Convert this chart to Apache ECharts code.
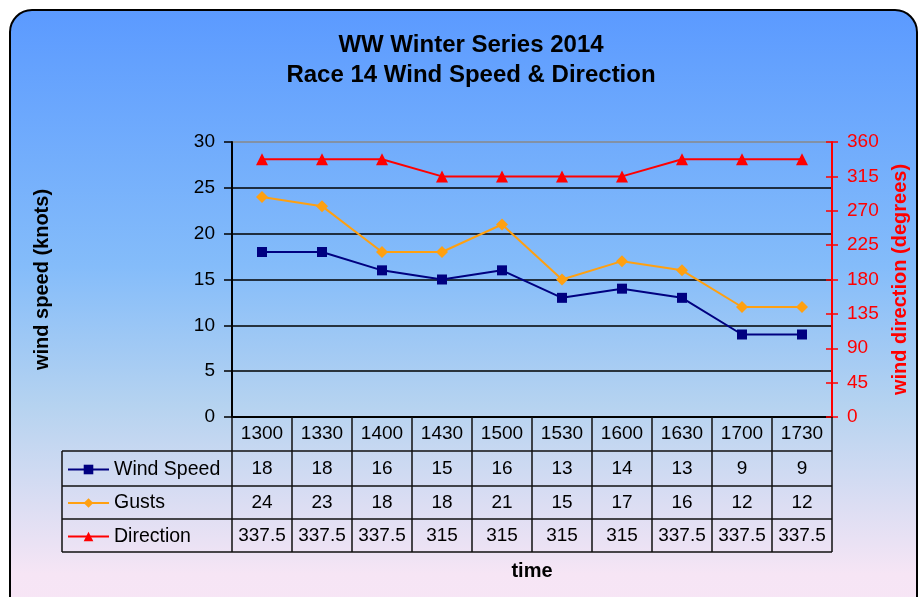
<!DOCTYPE html>
<html>
<head>
<meta charset="utf-8">
<title>WW Winter Series 2014</title>
<script src="https://cdn.jsdelivr.net/npm/echarts@6/dist/echarts.min.js"></script>
<style>
  html, body { margin: 0; padding: 0; background: #fff; }
  #main { width: 919px; height: 597px; }
</style>
</head>
<body>
<div id="main"></div>
<script>
// data
const times = ['1300', '1330', '1400', '1430', '1500', '1530', '1600', '1630', '1700', '1730'];
const windSpeed = [18, 18, 16, 15, 16, 13, 14, 13, 9, 9];
const gusts = [24, 23, 18, 18, 21, 15, 17, 16, 12, 12];
const direction = [337.5, 337.5, 337.5, 315, 315, 315, 315, 337.5, 337.5, 337.5];

const speedMax = 30, speedStep = 5;
const dirMax = 360, dirStep = 45;

// layout
const font = '"Liberation Sans", Arial, sans-serif';
const plotLeft = 232, plotRight = 832, plotTop = 142, plotBottom = 417;
const tableLeft = 62;
const rowLines = [451, 486, 519, 552];

const chart = echarts.init(document.getElementById('main'));

// one extra x axis per table row, labels pulled from the row's array
function tableRow(values, top, bottom) {
    return {
        type: 'category',
        gridIndex: 0,
        position: 'bottom',
        offset: top - plotBottom,
        data: times,
        axisLine: { show: false },
        axisTick: { show: false },
        splitLine: { show: false },
        axisLabel: {
            interval: 0,
            margin: (bottom - top) / 2,
            verticalAlign: 'middle',
            color: '#000',
            fontSize: 19,
            fontFamily: font,
            formatter: (v, i) => String(values[i])
        }
    };
}

const rules = [];
rowLines.forEach(y => {
    rules.push({
        type: 'line', z: 5,
        shape: { x1: tableLeft, y1: y, x2: plotRight, y2: y },
        style: { stroke: '#111', lineWidth: 1.5 }
    });
});
rules.push({
    type: 'line', z: 5,
    shape: { x1: tableLeft, y1: rowLines[0], x2: tableLeft, y2: rowLines[3] },
    style: { stroke: '#111', lineWidth: 1.5 }
});

const option = {
    backgroundColor: '#fff',
    animation: false,
    textStyle: { fontFamily: font },
    grid: {
        left: plotLeft,
        right: 919 - plotRight,
        top: plotTop,
        bottom: 597 - plotBottom,
        outerBoundsMode: 'none'
    },
    legend: {
        orient: 'vertical',
        left: 67,
        top: 459.5,
        padding: 0,
        itemWidth: 41,
        itemHeight: 12,
        itemGap: 13.5,
        selectedMode: false,
        textStyle: { fontSize: 19.5, color: '#000', fontFamily: font, lineHeight: 20 },
        data: ['Wind Speed', 'Gusts', 'Direction']
    },
    xAxis: [
        {
            type: 'category',
            data: times,
            boundaryGap: true,
            name: 'time',
            nameLocation: 'middle',
            nameGap: 144,
            nameTextStyle: { fontSize: 20, fontWeight: 'bold', color: '#000', fontFamily: font },
            axisLine: { lineStyle: { color: '#000', width: 2 } },
            axisTick: { show: true, length: rowLines[3] - plotBottom, lineStyle: { color: '#111', width: 1.5 } },
            axisLabel: {
                interval: 0,
                margin: (rowLines[0] - plotBottom) / 2,
                verticalAlign: 'middle',
                color: '#000',
                fontSize: 19,
                fontFamily: font
            }
        },
        tableRow(windSpeed, rowLines[0], rowLines[1]),
        tableRow(gusts, rowLines[1], rowLines[2]),
        tableRow(direction, rowLines[2], rowLines[3])
    ],
    yAxis: [
        {
            type: 'value',
            position: 'left',
            min: 0, max: speedMax, interval: speedStep,
            name: 'wind speed (knots)',
            nameLocation: 'middle',
            nameGap: 180,
            nameTextStyle: { fontSize: 20, fontWeight: 'bold', color: '#000', fontFamily: font },
            axisLine: { show: true, lineStyle: { color: '#000', width: 2 } },
            axisTick: { show: true, length: 8, lineStyle: { color: '#000', width: 1.5 } },
            axisLabel: { margin: 17, fontSize: 19, color: '#000', fontFamily: font },
            splitLine: {
                show: true,
                lineStyle: { color: ['#000', '#000', '#000', '#000', '#000', '#000', '#888'], width: 1.5 }
            }
        },
        {
            type: 'value',
            position: 'right',
            min: 0, max: dirMax, interval: dirStep,
            name: 'wind direction (degrees)',
            nameLocation: 'middle',
            nameGap: 58,
            nameTextStyle: { fontSize: 20, fontWeight: 'bold', color: '#ff0000', fontFamily: font },
            axisLine: { show: true, lineStyle: { color: '#ff0000', width: 2 } },
            axisTick: { show: true, length: 6, lineStyle: { color: '#ff0000', width: 1.5 } },
            axisLabel: { margin: 15, fontSize: 19, color: '#ff0000', fontFamily: font },
            splitLine: { show: false }
        },
        {
            // same scale, only to give the red ticks their inner half
            type: 'value',
            position: 'right',
            min: 0, max: dirMax, interval: dirStep,
            axisLine: { show: false },
            axisTick: { show: true, inside: true, length: 6, lineStyle: { color: '#ff0000', width: 1.5 } },
            axisLabel: { show: false },
            splitLine: { show: false }
        }
    ],
    graphic: [
        {
            type: 'rect', z: -100,
            shape: { x: 10, y: 10, width: 907, height: 640, r: 22 },
            style: {
                fill: new echarts.graphic.LinearGradient(0, 0, 0, 1, [
                    { offset: 0, color: '#5b9aff' },
                    { offset: 0.4, color: '#84bcfa' },
                    { offset: 0.62, color: '#b6d3f0' },
                    { offset: 0.88, color: '#f6e5f5' },
                    { offset: 1, color: '#f9e6f6' }
                ]),
                stroke: '#000',
                lineWidth: 2
            }
        },
        {
            type: 'text', z: 5,
            x: 471, y: 60,
            style: {
                text: 'WW Winter Series 2014\nRace 14 Wind Speed & Direction',
                align: 'center',
                verticalAlign: 'middle',
                fill: '#000',
                font: 'bold 24px ' + font,
                lineHeight: 30
            }
        }
    ].concat(rules),
    series: [
        {
            name: 'Wind Speed',
            type: 'line',
            xAxisIndex: 0,
            yAxisIndex: 0,
            data: windSpeed,
            symbol: 'rect',
            symbolSize: 10,
            color: '#000080',
            lineStyle: { width: 2, color: '#000080' },
            itemStyle: { color: '#000080' }
        },
        {
            name: 'Gusts',
            type: 'line',
            xAxisIndex: 0,
            yAxisIndex: 0,
            data: gusts,
            symbol: 'diamond',
            symbolSize: 12,
            color: '#ffa010',
            lineStyle: { width: 2, color: '#ffa010' },
            itemStyle: { color: '#ffa010' }
        },
        {
            name: 'Direction',
            type: 'line',
            xAxisIndex: 0,
            yAxisIndex: 1,
            data: direction,
            symbol: 'triangle',
            symbolSize: 12,
            color: '#ff0000',
            lineStyle: { width: 2, color: '#ff0000' },
            itemStyle: { color: '#ff0000' }
        }
    ]
};

chart.setOption(option);
</script>
</body>
</html>
